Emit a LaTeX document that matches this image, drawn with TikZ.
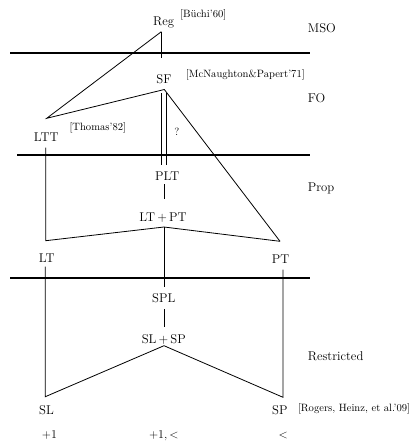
\documentclass[tikz,border=0pt]{standalone}
\begin{document}
\begin{tikzpicture}[x=1pt,y=-1pt,
  lbl/.style={font=\fontsize{12.7}{15}\selectfont, inner sep=0pt, anchor=base},
  lvl/.style={font=\fontsize{12.7}{15}\selectfont, inner sep=0pt, anchor=base west},
  cite/.style={font=\fontsize{10.6}{12}\selectfont, inner sep=0pt, anchor=base west},
  sep/.style={line width=2pt},
  edge/.style={line width=0.8pt}]
\useasboundingbox (0,0) rectangle (411,445);
% separators
\coordinate (s1a) at (10,53);   \coordinate (s1b) at (310,53);
\coordinate (s2a) at (17.3,155); \coordinate (s2b) at (310,155);
\coordinate (s3a) at (10,278); \coordinate (s3b) at (310,278);
\draw[sep] (s1a) -- (s1b);
\draw[sep] (s2a) -- (s2b);
\draw[sep] (s3a) -- (s3b);
% level names
\node[lvl] (mso) at (307.7,32.3) {MSO};
\node[lvl] (fo) at (307.7,102.3) {FO};
\node[lvl] (prop) at (307.7,191.7) {Prop};
\node[lvl] (restr) at (307.7,360.7) {Restricted};
% class labels
\node[lbl] (reg) at (163.7,25) {Reg};
\node[lbl] (sf) at (164,83.3) {SF};
\node[lbl] (ltt) at (46.3,141.7) {LTT};
\node[lbl] (plt) at (167.3,180.7) {PLT};
\node[lbl] (ltpt) at (163,221) {LT\,+\,PT};
\node[lbl] (lt) at (46.7,262.7) {LT};
\node[lbl] (pt) at (280.7,263.3) {PT};
\node[lbl] (spl) at (163.8,302.7) {SPL};
\node[lbl] (slsp) at (163.8,343.3) {SL\,+\,SP};
\node[lbl] (sl) at (46.5,414) {SL};
\node[lbl] (sp) at (279.8,414) {SP};
\node[lbl] (p1) at (49.5,438.3) {$+1$};
\node[lbl] (p1lt) at (163.8,438.3) {$+1,<$};
\node[lbl] (lessthan) at (283.3,438.3) {$<$};
\node[font=\fontsize{10.6}{12}\selectfont, inner sep=0pt] (q) at (177,131.7) {?};
% citations
\node[cite] (c1) at (180,17.5) {[B\"uchi'60]};
\node[cite] (c2) at (185.7,77.5) {[McNaughton\&Papert'71]};
\node[cite] (c3) at (69.3,130.5) {[Thomas'82]};
\node[cite] (c4) at (297.8,411.5) {[Rogers, Heinz, et al.'09]};
% vertices
\coordinate (vreg) at (161.3,31.7);
\coordinate (vregb) at (161.3,58.3);
\coordinate (vsf) at (164.3,89.5);
\coordinate (vltt) at (46.7,118.3);
\coordinate (ltttop) at (45.7,147.5);
\coordinate (dl1) at (161,93);   \coordinate (dl2) at (161,165);
\coordinate (dr1) at (166,93);   \coordinate (dr2) at (166,165);
\coordinate (plt1) at (164,184.3); \coordinate (plt2) at (164,199.3);
\coordinate (vltpt) at (164,227);
\coordinate (vltptb) at (164,286.7);
\coordinate (cltu) at (45.7,240.7);
\coordinate (cptu) at (280,241.3);
\coordinate (lttop) at (45.3,266.7);
\coordinate (pttop) at (283,269.5);
\coordinate (spl1) at (164,309.3); \coordinate (spl2) at (164,327.3);
\coordinate (vslsp) at (164,345.7);
\coordinate (csl) at (45.3,396.7);
\coordinate (csp) at (283,397.3);
% edges
\draw[edge] (vreg) -- (vregb);
\draw[edge] (vreg) -- (vltt) -- (vsf) -- (cptu);
\draw[edge] (dl1) -- (dl2);
\draw[edge] (dr1) -- (dr2);
\draw[edge] (plt1) -- (plt2);
\draw[edge] (ltttop) -- (cltu) -- (vltpt) -- (cptu);
\draw[edge] (vltpt) -- (vltptb);
\draw[edge] (lttop) -- (csl) -- (vslsp) -- (csp) -- (pttop);
\draw[edge] (spl1) -- (spl2);
\end{tikzpicture}
\end{document}
